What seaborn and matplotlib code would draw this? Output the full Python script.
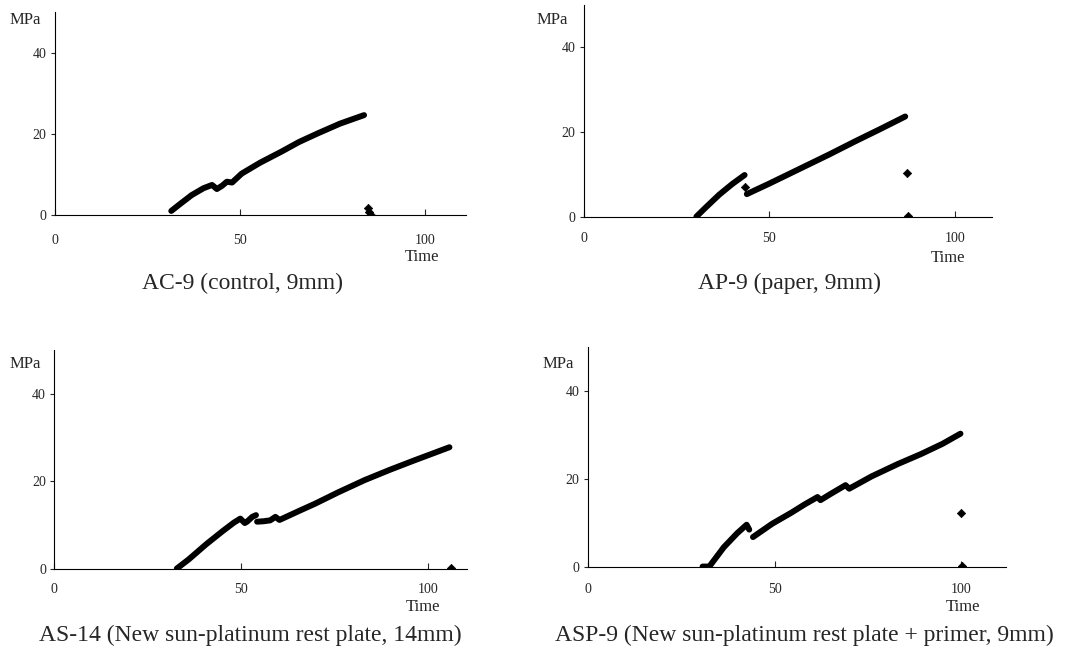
import matplotlib
matplotlib.use("Agg")
import matplotlib.pyplot as plt
import seaborn as sns

# ---- data (time, MPa) ----
ac9_time = [31.5, 34.0, 37.0, 40.2, 42.5, 43.8, 45.2, 46.5, 47.9, 50.5, 55.5, 61.2, 66.0, 71.0, 77.0, 83.5]
ac9_mpa = [1.0, 2.8, 4.9, 6.6, 7.4, 6.4, 7.2, 8.2, 8.0, 10.2, 12.9, 15.6, 18.0, 20.1, 22.5, 24.6]
ac9_end_time = [84.5, 84.8, 85.3]
ac9_end_mpa = [1.7, 0.8, 0.1]

ap9_time_a = [30.3, 33.0, 36.5, 40.0, 43.3]
ap9_mpa_a = [0.1, 2.4, 5.3, 7.8, 9.9]
ap9_time_b = [43.9, 50.0, 58.0, 66.0, 73.0, 80.0, 86.6]
ap9_mpa_b = [5.4, 7.9, 11.3, 14.7, 17.8, 20.8, 23.7]
ap9_end_time = [43.5, 87.0, 87.3]
ap9_end_mpa = [7.0, 10.3, 0.2]

as14_time_a = [32.8, 36.0, 40.6, 45.0, 48.1, 49.8, 51.0, 51.6, 53.0, 54.0]
as14_mpa_a = [0.1, 2.2, 5.6, 8.6, 10.6, 11.5, 10.5, 10.8, 11.9, 12.3]
as14_time_b = [54.3, 56.0, 57.8, 59.2, 60.3, 65.9, 69.8, 76.0, 83.1, 90.0, 96.4, 105.8]
as14_mpa_b = [10.8, 10.9, 11.1, 11.9, 11.2, 13.4, 14.9, 17.5, 20.3, 22.7, 24.8, 27.8]
as14_end_time = [106.2]
as14_end_mpa = [0.15]

asp9_time_a = [30.7, 32.5, 36.4, 40.0, 42.5, 43.2]
asp9_mpa_a = [0.1, 0.1, 4.5, 7.7, 9.6, 8.5]
asp9_time_b = [44.2, 49.3, 54.6, 58.0, 61.5, 62.3, 65.0, 69.0, 70.0, 76.0, 83.0, 89.3, 95.0, 99.8]
asp9_mpa_b = [6.8, 9.8, 12.4, 14.2, 15.9, 15.2, 16.6, 18.6, 17.8, 20.6, 23.4, 25.7, 28.0, 30.3]
asp9_end_time = [100.0, 100.3]
asp9_end_mpa = [12.3, 0.2]

titles = ["AC-9 (control, 9mm)", "AP-9 (paper, 9mm)",
          "AS-14 (New sun-platinum rest plate, 14mm)",
          "ASP-9 (New sun-platinum rest plate + primer, 9mm)"]
x_ticks = [0, 50, 100]
y_ticks = [0, 20, 40]

sns.set_style("white")
plt.rcParams['font.family'] = ['Liberation Serif', 'DejaVu Serif']

W, H = 1069, 652
fig = plt.figure(figsize=(W / 100, H / 100), dpi=100)


def rect(left, top, right, bottom):
    return [left / W, 1 - bottom / H, (right - left) / W, (bottom - top) / H]


def ftext(x, y, s, **kw):
    fig.text(x / W, 1 - y / H, s, **kw)


# layout in pixels: axes box, xmax, tick pad, MPa pos, Time pos, title pos
layout = [
    dict(box=(54.5, 12, 466, 215), xmax=111, pad=14, mpa=(25, 20), time=(422, 257), title=(242, 283)),
    dict(box=(584, 5, 992, 217), xmax=110, pad=11, mpa=(552, 20), time=(948, 258), title=(790, 283)),
    dict(box=(54.3, 350, 467, 569), xmax=110.5, pad=10, mpa=(25, 364), time=(423, 607), title=(250, 635)),
    dict(box=(588, 347, 1006, 567), xmax=112, pad=11.5, mpa=(558, 364), time=(963, 607), title=(804, 635)),
]

series = [
    ([(ac9_time, ac9_mpa)], (ac9_end_time, ac9_end_mpa)),
    ([(ap9_time_a, ap9_mpa_a), (ap9_time_b, ap9_mpa_b)], (ap9_end_time, ap9_end_mpa)),
    ([(as14_time_a, as14_mpa_a), (as14_time_b, as14_mpa_b)], (as14_end_time, as14_end_mpa)),
    ([(asp9_time_a, asp9_mpa_a), (asp9_time_b, asp9_mpa_b)], (asp9_end_time, asp9_end_mpa)),
]

for (segs, pts), lay, title in zip(series, layout, titles):
    ax = fig.add_axes(rect(*lay["box"]))
    for t, v in segs:
        sns.lineplot(x=t, y=v, ax=ax, color="black", linewidth=4.3,
                     solid_capstyle="round", sort=False)
    sns.scatterplot(x=pts[0], y=pts[1], ax=ax, marker="D", s=18,
                    color="black", edgecolor="black", linewidth=0.5)

    ax.set_xlim(0, lay["xmax"])
    ax.set_ylim(0, 50)
    ax.set_xticks(x_ticks)
    ax.set_yticks(y_ticks)
    ax.set_xlabel("")
    ax.set_ylabel("")
    for side in ["top", "right"]:
        ax.spines[side].set_visible(False)
    for side in ["left", "bottom"]:
        ax.spines[side].set_color("black")
        ax.spines[side].set_linewidth(0.8)
    ax.tick_params(axis="x", direction="in", length=4, width=0.8, pad=lay["pad"],
                   labelsize=10, bottom=True)
    ax.tick_params(axis="y", direction="out", length=3, width=0.8, pad=3,
                   labelsize=10, left=True)
    ax.patch.set_alpha(0)

    ftext(*lay["mpa"], "MPa", fontsize=12, ha="center", va="center")
    ftext(*lay["time"], "Time", fontsize=12, ha="center", va="center")
    ftext(*lay["title"], title, fontsize=17, ha="center", va="center")

fig.savefig("out.png", dpi=100)
